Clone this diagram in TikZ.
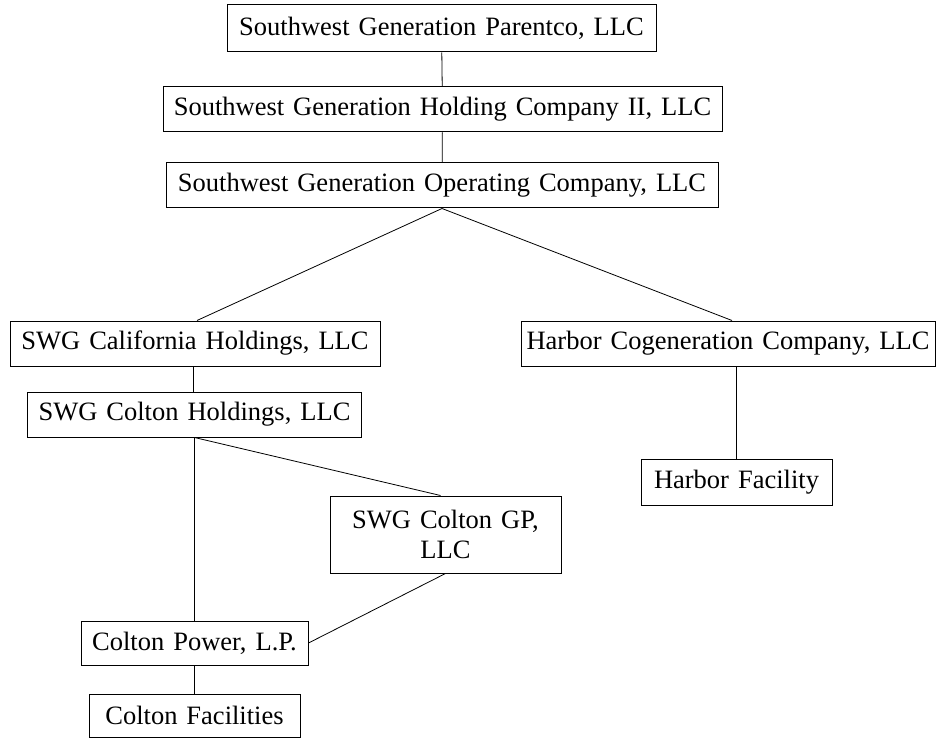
\documentclass[tikz,border=0pt]{standalone}
\usepackage{fontspec}
\setmainfont{Liberation Serif}
\newcommand\boxfont{\fontsize{26.5}{30.5}\selectfont\spaceskip 9pt plus 2pt minus 1pt\relax}
\begin{document}
\begin{tikzpicture}[x=1pt,y=-1pt,
  entity/.style={draw=black,line width=1pt,inner sep=0pt,font=\boxfont,align=center},
  link/.style={draw=black,line width=0.8pt}]
\useasboundingbox (0,0) rectangle (937,738);
\node[entity,minimum width=429,minimum height=47] (P) at (441.5,28.5) {Southwest Generation Parentco, LLC};
\node[entity,minimum width=559,minimum height=45] (H2) at (442.5,109.5) {Southwest Generation Holding Company II, LLC};
\node[entity,minimum width=552,minimum height=45] (O) at (442,185.5) {Southwest Generation Operating Company, LLC};
\node[entity,minimum width=370,minimum height=45] (CA) at (195,343.5) {SWG California Holdings, LLC};
\node[entity,minimum width=414,minimum height=45] (HC) at (728,343.5) {Harbor Cogeneration Company, LLC};
\node[entity,minimum width=334,minimum height=45] (CH) at (194.5,414.5) {SWG Colton Holdings, LLC};
\node[entity,minimum width=191,minimum height=46] (HF) at (736.5,482) {Harbor Facility};
\node[entity,minimum width=231,minimum height=77] (GP) at (445.5,534.5) {SWG Colton GP,\\LLC};
\node[entity,minimum width=227,minimum height=44] (CP) at (194.5,643) {Colton Power, L.P.};
\node[entity,minimum width=211,minimum height=43] (CF) at (194.5,715.5) {Colton Facilities};
\draw[link] (P) -- (H2);
\draw[link] (H2) -- (O);
\draw[link] (O.south) -- ([xshift=2pt]CA.north);
\draw[link] (O.south) -- ([xshift=4pt]HC.north);
\draw[link] ([xshift=-2pt]CA.south) -- ([xshift=-1.5pt]CH.north);
\draw[link] (HF.north |- HC.south) -- (HF.north);
\draw[link] (CH.south) -- (CP.north);
\draw[link] (CH.south) -- ([xshift=-5pt]GP.north);
\draw[link] (GP.south) -- (CP.east);
\draw[link] (CP) -- (CF);
\end{tikzpicture}
\end{document}
